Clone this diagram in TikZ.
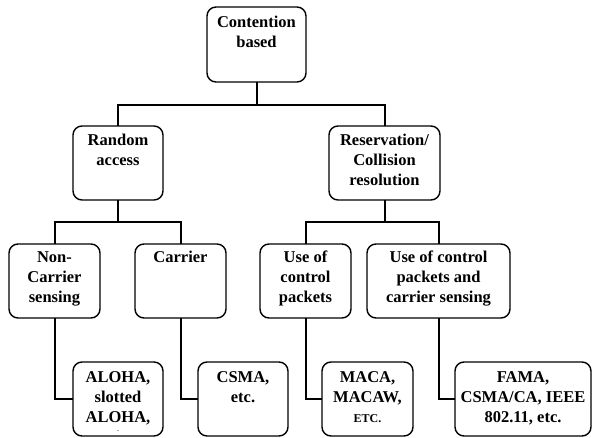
\documentclass[tikz,border=0pt]{standalone}
\usepackage{fontspec}
\setmainfont{Liberation Serif}
\begin{document}
\begin{tikzpicture}[x=1pt,y=-1pt,
  box/.style={draw=black, line width=1.4pt, rounded corners=9pt, inner sep=0pt, outer sep=0pt, fill=white},
  txt/.style={inner sep=0pt, align=center, anchor=north, font=\fontsize{16.5}{20}\selectfont\bfseries},
  conn/.style={draw=black, line width=2pt, line join=miter}]
\useasboundingbox[fill=white] (0,0) rectangle (592,438);
% boxes
\node[box, minimum width=99pt, minimum height=75pt] (root) at (256.5,44.5) {};
\node[box, minimum width=90pt, minimum height=74pt] (rand) at (118,163) {};
\node[box, minimum width=111pt, minimum height=74pt] (resv) at (384.5,163) {};
\node[box, minimum width=91pt, minimum height=74pt] (nc) at (54.5,281) {};
\node[box, minimum width=91pt, minimum height=74pt] (car) at (180.5,281) {};
\node[box, minimum width=91pt, minimum height=74pt] (ucp) at (305.5,281) {};
\node[box, minimum width=143pt, minimum height=74pt] (ucpcs) at (438.5,281) {};
\node[box, minimum width=90pt, minimum height=74pt] (aloha) at (118,399) {};
\node[box, minimum width=90pt, minimum height=74pt] (csma) at (243,399) {};
\node[box, minimum width=91pt, minimum height=74pt] (maca) at (367.5,399) {};
\node[box, minimum width=136pt, minimum height=74pt] (fama) at (523,399) {};
% texts
\node[txt] (troot) at ([yshift=-9pt]root.north) {Contention\\based};
\node[txt] (trand) at ([yshift=-8pt]rand.north) {Random\\access};
\node[txt] (tresv) at ([yshift=-8pt]resv.north) {Reservation/\\Collision\\resolution};
\node[txt] (tnc) at ([yshift=-7pt]nc.north) {Non-\\Carrier\\sensing};
\node[txt] (tcar) at ([yshift=-7pt]car.north) {Carrier};
\node[txt] (tucp) at ([yshift=-7pt]ucp.north) {Use of\\control\\packets};
\node[txt] (tucpcs) at ([yshift=-7pt]ucpcs.north) {Use of control\\packets and\\carrier sensing};
\node[txt] (taloha) at ([yshift=-9pt]aloha.north) {ALOHA,\\slotted\\ALOHA,};
\node[inner sep=0pt, font=\fontsize{6}{6}\selectfont\bfseries] (tdot) at (118,431.5) {.};
\node[txt] (tcsma) at ([yshift=-9pt]csma.north) {CSMA,\\etc.};
\node[txt] (tmaca) at ([yshift=-9pt]maca.north) {MACA,\\MACAW,\\{\fontsize{12}{20}\selectfont ETC.}};
\node[txt] (tfama) at ([yshift=-9pt]fama.north) {FAMA,\\CSMA/CA, IEEE\\802.11, etc.};
% buses
\coordinate (b1) at (0,105);
\coordinate (b2) at (0,222);
\draw[conn] (root.south) -- (root.south |- b1);
\draw[conn] (rand.north) -- (rand.north |- b1) -- (resv.north |- b1) -- (resv.north);
\draw[conn] (rand.south) -- (rand.south |- b2);
\draw[conn] (nc.north) -- (nc.north |- b2) -- (car.north |- b2) -- (car.north);
\draw[conn] (resv.south) -- (resv.south |- b2);
\draw[conn] (ucp.north) -- (ucp.north |- b2) -- (ucpcs.north |- b2) -- (ucpcs.north);
% leaves
\draw[conn] (nc.south) |- (aloha.west);
\draw[conn] (car.south) |- (csma.west);
\draw[conn] (ucp.south) |- (maca.west);
\draw[conn] (ucpcs.south) |- (fama.west);
\end{tikzpicture}
\end{document}
